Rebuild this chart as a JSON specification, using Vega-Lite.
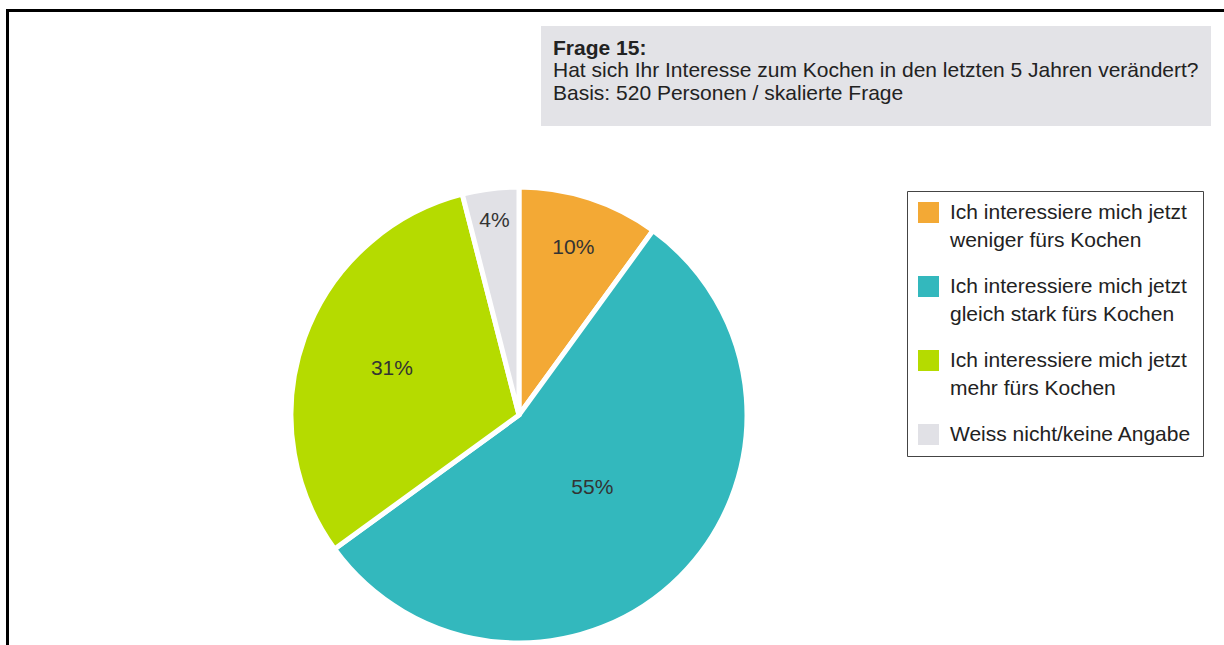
{
  "$schema": "https://vega.github.io/schema/vega-lite/v6.json",
  "width": 1217,
  "height": 635,
  "padding": {"left": 7, "top": 10, "right": 0, "bottom": 0},
  "autosize": {"type": "none"},
  "background": "white",
  "config": {
    "font": "Liberation Sans",
    "view": {"stroke": null},
    "axis": {"labels": false, "ticks": false, "grid": false, "domainColor": "black", "domainWidth": 3, "domainCap": "square"}
  },
  "data": {"values": [
    {"nr": 1, "antwort": "Ich interessiere mich jetzt weniger fürs Kochen", "anteil": 0.10, "frage": "Frage 15"},
    {"nr": 2, "antwort": "Ich interessiere mich jetzt gleich stark fürs Kochen", "anteil": 0.55, "frage": "Frage 15"},
    {"nr": 3, "antwort": "Ich interessiere mich jetzt mehr fürs Kochen", "anteil": 0.31, "frage": "Frage 15"},
    {"nr": 4, "antwort": "Weiss nicht/keine Angabe", "anteil": 0.04, "frage": "Frage 15"}
  ]},
  "encoding": {
    "x": {"field": "frage", "type": "nominal", "scale": {"type": "point", "align": 0.4207}, "axis": {"orient": "top", "title": null}},
    "y": {"field": "frage", "type": "nominal", "scale": {"type": "point", "align": 0.6378}, "axis": {"orient": "left", "title": null}},
    "theta": {"field": "anteil", "type": "quantitative", "stack": true},
    "order": {"field": "nr", "type": "quantitative"}
  },
  "layer": [
    {
      "mark": {"type": "arc", "radius": 228, "strokeWidth": 5},
      "encoding": {
        "fill": {
          "field": "antwort", "type": "nominal",
          "scale": {
            "domain": ["Ich interessiere mich jetzt weniger fürs Kochen", "Ich interessiere mich jetzt gleich stark fürs Kochen", "Ich interessiere mich jetzt mehr fürs Kochen", "Weiss nicht/keine Angabe"],
            "range": ["#F3A935", "#33B8BD", "#B5DB00", "#E1E1E6"]
          },
          "legend": {
            "title": null, "orient": "none", "legendX": 900, "legendY": 181,
            "strokeColor": "#444", "fillColor": "white", "padding": 11,
            "symbolType": "square", "symbolSize": 441, "symbolStrokeWidth": 0,
            "labelFontSize": 21, "labelColor": "#222",
            "labelOffset": 11, "labelLimit": 400, "rowPadding": 24,
            "labelExpr": "length(datum.label) > 30 ? [substring(datum.label, 0, 27), substring(datum.label, 28)] : datum.label",
            "encode": {"labels": {"update": {"lineHeight": {"value": 28}}}}
          }
        },
        "stroke": {
          "field": "frage", "type": "nominal",
          "scale": {"range": ["white"]},
          "legend": {
            "title": "Frage 15:", "orient": "none", "legendX": 534, "legendY": 16,
            "fillColor": "#E3E3E7", "padding": 12,
            "titleFontSize": 21, "titleFontWeight": "bold", "titleColor": "#222", "titlePadding": 1, "titleLimit": 700,
            "labelFontSize": 21, "labelColor": "#222", "labelLimit": 700,
            "labelOffset": -21, "labelBaseline": "middle",
            "symbolType": "M0,0L0,43", "symbolSize": 4, "symbolOpacity": 0, "symbolStrokeWidth": 0,
            "labelExpr": "['Hat sich Ihr Interesse zum Kochen in den letzten 5 Jahren verändert?', 'Basis: 520 Personen / skalierte Frage']",
            "encode": {"labels": {"update": {"lineHeight": {"value": 21}}}}
          }
        }
      }
    },
    {
      "mark": {"type": "text", "fontSize": 21, "color": "#333"},
      "encoding": {
        "text": {"field": "anteil", "type": "quantitative", "format": ".0%"},
        "radius": {"field": "anteil", "type": "quantitative", "scale": {"type": "sqrt", "domain": [0.04, 0.55], "range": [195.5, 103.7]}}
      }
    }
  ]
}
